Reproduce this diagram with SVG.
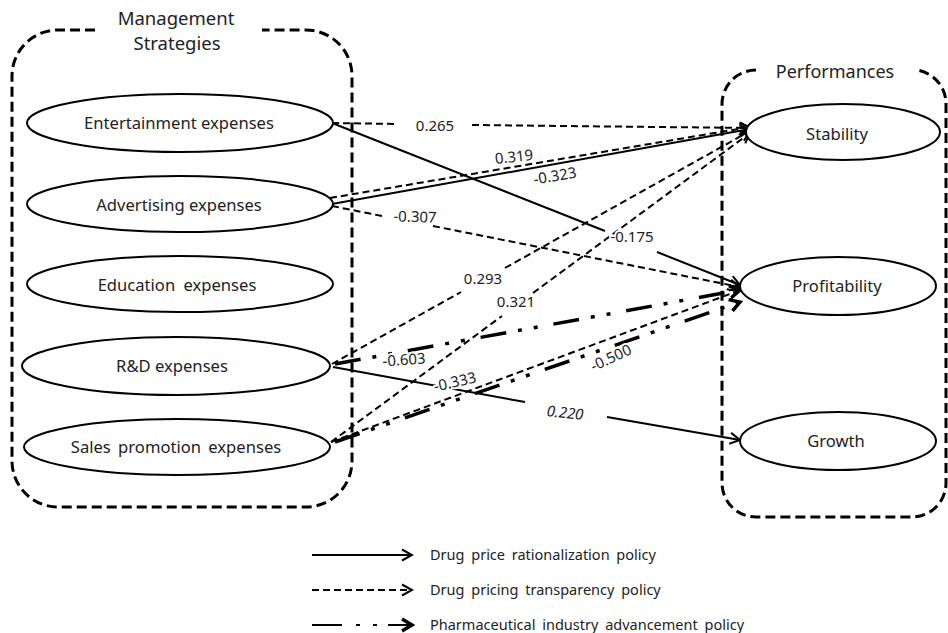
<svg xmlns="http://www.w3.org/2000/svg" width="948" height="633" viewBox="0 0 948 633">
<style>
text{font-family:"Noto Sans","Open Sans",sans-serif;fill:#222}
.node ellipse{fill:#fff;stroke:#000;stroke-width:2}
.nt{font-size:16.6px;text-anchor:middle}
.title{font-size:18.5px;text-anchor:middle}
.box{fill:none;stroke:#000;stroke-width:3;stroke-dasharray:10 5}
.e{fill:none;stroke:#000;stroke-width:2}
.sol{marker-end:url(#ah)}
.dsh{stroke-dasharray:7 4;marker-end:url(#ah)}
.dd{stroke-width:3.5;stroke-dasharray:26 12 4 12 4 16;marker-end:url(#ahb)}
.lbl{font-size:15px;text-anchor:middle;stroke:#fff;stroke-width:4;paint-order:stroke;stroke-linejoin:round}
.leg{font-size:14.5px;word-spacing:3px}
</style>
<defs>
<marker id="ah" viewBox="0 0 14 14" markerWidth="14" markerHeight="14" refX="12" refY="7" orient="auto" markerUnits="userSpaceOnUse">
<path d="M2,1.5 L12,7 L2,12.5" fill="none" stroke="#000" stroke-width="2"/>
</marker>
<marker id="ahb" viewBox="0 0 16 16" markerWidth="16" markerHeight="16" refX="13" refY="8" orient="auto" markerUnits="userSpaceOnUse">
<path d="M3,2 L13,8 L3,14" fill="none" stroke="#000" stroke-width="3.5"/>
</marker>
</defs>

<g id="container-management">
<path class="box" d="M95,30 L58,30 A46,46 0 0 0 12,76 L12,461 A46,46 0 0 0 58,507 L306,507 A46,46 0 0 0 352,461 L352,76 A46,46 0 0 0 306,30 L262,30"/>
<text class="title" x="176" y="25">Management</text>
<text class="title" x="177" y="50">Strategies</text>
</g>
<g id="container-performances">
<path class="box" d="M756,70 A34,34 0 0 0 722,104 L722,483 A34,34 0 0 0 756,517 L912,517 A34,34 0 0 0 946,483 L946,104 A34,34 0 0 0 916,70"/>
<text class="title" x="835" y="78" style="font-size:18px">Performances</text>
</g>

<g id="connectors">
<path class="e dsh" d="M332,123 L398,124 M472,125 L750,128"/>
<path class="e sol" d="M332,123 L605,231 M657,252 L740,285"/>
<path class="e dsh" d="M330,198 L750,127"/>
<path class="e sol" d="M332,204 L750,129"/>
<path class="e dsh" d="M332,206 L382,216 M433,226 L740,287"/>
<path class="e dsh" d="M332,364 L461,292 M505,268 L750,131"/>
<path class="e dsh" d="M331,442 L502,316 M533,293 L750,133"/>
<path class="e dd" d="M335,364 L740,290"/>
<path class="e sol" d="M333,367 L525,402 M607,417 L740,440"/>
<path class="e dsh" d="M331,442 L738,291"/>
<path class="e dd" d="M335,442 L740,302"/>
<text class="lbl" x="435" y="131">0.265</text>
<text class="lbl" x="632" y="242">-0.175</text>
<text class="lbl" x="514" y="162" transform="rotate(-6 514 157)">0.319</text>
<text class="lbl" x="555" y="181" transform="rotate(-10 555 176)">-0.323</text>
<text class="lbl" x="415" y="222" transform="rotate(2 415 217)">-0.307</text>
<text class="lbl" x="483" y="284">0.293</text>
<text class="lbl" x="516" y="307">0.321</text>
<text class="lbl" x="404" y="365" transform="rotate(-4 404 360)">-0.603</text>
<text class="lbl" x="455" y="387" transform="rotate(-13 455 382)">-0.333</text>
<text class="lbl" x="611" y="363" transform="rotate(-25 611 358)">-0.500</text>
<text class="lbl" x="565" y="418" font-style="italic" transform="rotate(6 565 413)">0.220</text>
</g>

<g id="node-entertainment" class="node"><ellipse cx="180" cy="123" rx="153" ry="29"/><text class="nt" x="179" y="129">Entertainment expenses</text></g>
<g id="node-advertising" class="node"><ellipse cx="180" cy="204" rx="153" ry="28"/><text class="nt" x="179" y="211">Advertising expenses</text></g>
<g id="node-education" class="node"><ellipse cx="180" cy="284" rx="153" ry="28"/><text class="nt" x="177" y="291" style="word-spacing:4px">Education expenses</text></g>
<g id="node-rd" class="node"><ellipse cx="176" cy="366" rx="154" ry="29"/><text class="nt" x="172" y="372">R&amp;D expenses</text></g>
<g id="node-sales" class="node"><ellipse cx="177" cy="447" rx="153" ry="28"/><text class="nt" x="176" y="453" style="word-spacing:3px">Sales promotion expenses</text></g>
<g id="node-stability" class="node"><ellipse cx="843" cy="132" rx="97" ry="28"/><text class="nt" x="837" y="140">Stability</text></g>
<g id="node-profitability" class="node"><ellipse cx="838" cy="286" rx="98" ry="29"/><text class="nt" x="837" y="292">Profitability</text></g>
<g id="node-growth" class="node"><ellipse cx="838" cy="441" rx="98" ry="29"/><text class="nt" x="836" y="447">Growth</text></g>

<g id="legend">
<path class="e" d="M312,555 L412,555" marker-end="url(#ah)"/>
<text class="leg" x="430" y="560">Drug price rationalization policy</text>
<path class="e" d="M312,590 L412,590" stroke-dasharray="7 4" marker-end="url(#ah)"/>
<text class="leg" x="430" y="595">Drug pricing transparency policy</text>
<path class="e" d="M312,625 L412,625" stroke-width="3.5" stroke-dasharray="30 14 4 13 4 11 24" marker-end="url(#ahb)"/>
<text class="leg" x="430" y="630">Pharmaceutical industry advancement policy</text>
</g>
</svg>
